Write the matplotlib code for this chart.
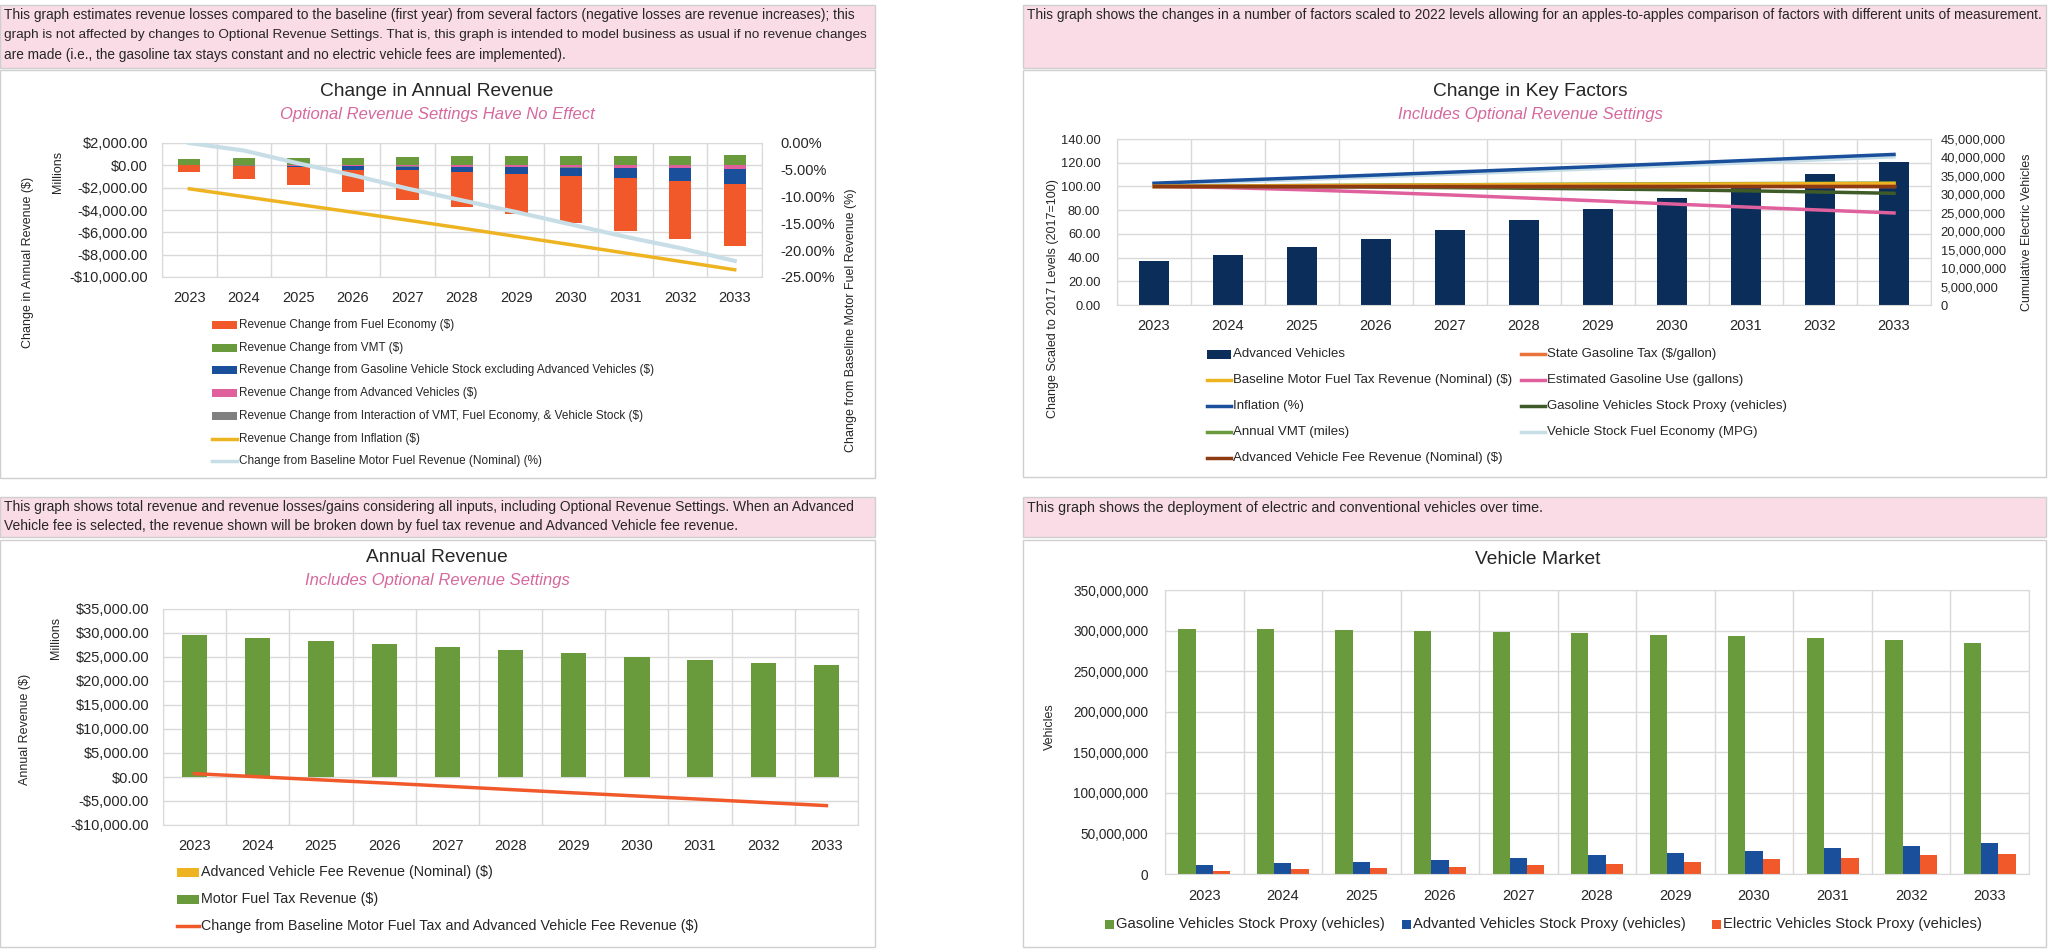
import numpy as np
import matplotlib
matplotlib.use("Agg")
import matplotlib.pyplot as plt
from matplotlib.patches import Rectangle
from matplotlib.lines import Line2D
from matplotlib.ticker import FuncFormatter, MultipleLocator

W, H = 2048, 950
FONT = ['Liberation Sans', 'DejaVu Sans']
plt.rcParams['font.family'] = FONT
plt.rcParams['text.color'] = '#262626'
plt.rcParams['xtick.color'] = '#262626'
plt.rcParams['ytick.color'] = '#262626'

years = [str(y) for y in range(2023, 2034)]

# Change in Annual Revenue (millions of $)
rev_fuel_economy = [-620, -1185, -1620, -2020, -2650, -3160, -3620, -4220, -4730, -5180, -5580]
rev_vmt = [540, 660, 690, 690, 750, 810, 870, 870, 870, 870, 930]
rev_gas_stock = [0, -30, -130, -300, -340, -460, -610, -730, -910, -1110, -1300]
rev_adv_vehicles = [0, -10, -30, -60, -80, -110, -140, -170, -200, -240, -300]
rev_interaction = [0, -10, -20, -30, -30, -30, -30, -30, -30, -40, -50]
rev_inflation = [-2100, -2800, -3500, -4200, -4910, -5630, -6370, -7110, -7860, -8600, -9350]
pct_change_baseline = [0.0, -1.4, -3.8, -6.0, -8.5, -10.7, -12.9, -15.2, -17.5, -19.6, -22.0]

# Change in Key Factors (2017 = 100), advanced vehicles on right axis
adv_vehicles_cum = [11.9e6, 13.6e6, 15.7e6, 17.9e6, 20.4e6, 23.1e6, 26.0e6, 29.1e6, 32.3e6, 35.5e6, 38.7e6]
kf_gas_tax = [100, 100, 100, 100, 100, 100, 100, 100, 100, 100, 100]
kf_baseline_rev = [100, 100.3, 100.6, 100.9, 101.2, 101.5, 101.7, 101.9, 102.1, 102.3, 102.5]
kf_gas_use = [100, 99.0, 97.2, 95.1, 92.8, 90.3, 87.8, 85.2, 82.6, 80.1, 77.6]
kf_inflation = [102.7, 105.0, 107.3, 109.6, 112.0, 114.4, 116.8, 119.3, 121.9, 124.5, 127.0]
kf_gas_stock = [100, 99.9, 99.7, 99.4, 99.0, 98.5, 97.9, 97.2, 96.3, 95.3, 94.2]
kf_vmt = [100, 100.4, 100.8, 101.1, 101.4, 101.7, 102.0, 102.2, 102.4, 102.6, 102.8]
kf_fuel_economy = [101.5, 103.6, 105.8, 108.0, 110.3, 112.6, 115.0, 117.4, 119.9, 122.4, 125.0]
kf_av_fee = [100, 100, 100, 100, 100, 100, 100, 100, 100, 100, 100]

# Annual Revenue (millions of $)
av_fee_revenue = [0, 0, 0, 0, 0, 0, 0, 0, 0, 0, 0]
fuel_tax_revenue = [29520, 28900, 28290, 27670, 27050, 26440, 25820, 25070, 24450, 23700, 23290]
change_from_baseline = [700, 50, -600, -1250, -1930, -2620, -3300, -3960, -4620, -5300, -5960]

# Vehicle Market
gas_vehicles = [301.5e6, 301.5e6, 300.5e6, 299.5e6, 298.5e6, 297e6, 295e6, 293e6, 290.5e6, 288e6, 285e6]
adv_vehicles = [11.4e6, 13.0e6, 15.0e6, 17.5e6, 20.3e6, 23.2e6, 26.0e6, 28.5e6, 32.5e6, 35.0e6, 38.6e6]
ev_vehicles = [4.1e6, 5.7e6, 6.9e6, 8.5e6, 10.6e6, 12.6e6, 15.0e6, 17.9e6, 19.9e6, 22.8e6, 25.2e6]

ORANGE = '#F1592A'
GREEN = '#699A3B'
BLUE = '#1A4F9C'
PINK = '#E0609D'
GRAY = '#808080'
YELLOW = '#EEB320'
LIGHTBLUE = '#C7DEE6'
NAVY = '#0B2D5A'
DKGREEN = '#3F5B27'
BROWN = '#8E3B12'
TAXORANGE = '#E8743B'
PINKBG = '#F9DCE6'
BORDER = '#CFCFCF'
GRID = '#D9D9D9'
SUBT = '#D6689E'

fig = plt.figure(figsize=(W / 100, H / 100), dpi=100)
x = np.arange(len(years))


def fy(y):
    return 1 - y / H


def add_axes_px(x0, y0, x1, y1):
    return fig.add_axes([x0 / W, 1 - y1 / H, (x1 - x0) / W, (y1 - y0) / H])


def box(x0, y0, x1, y1, face, edge='none', lw=1, z=1):
    fig.add_artist(Rectangle((x0 / W, fy(y1)), (x1 - x0) / W, (y1 - y0) / H, transform=fig.transFigure,
                             facecolor=face, edgecolor=edge, lw=lw, zorder=z))


def ftext(px, py, s, **kw):
    return fig.text(px / W, fy(py), s, **kw)


def legend_entry(px, py, label, color, kind, w=24, h=8, size=10.5):
    if kind == 'bar':
        box(px, py - h / 2, px + w, py + h / 2, color)
    else:
        fig.add_artist(Line2D([px / W, (px + w) / W], [fy(py), fy(py)], color=color,
                              lw=2.5, transform=fig.transFigure))
    ftext(px + w + 2, py, label, va='center', ha='left', fontsize=size)


def money(v, _):
    return f"${v:,.2f}" if v >= 0 else f"-${-v:,.2f}"


def style_axes(ax, ylim, ystep, yfmt, xpad, ypad, xsize=10.5, ysize=10.5):
    ax.set_xlim(-0.5, 10.5)
    ax.set_ylim(*ylim)
    ax.yaxis.set_major_locator(MultipleLocator(ystep))
    ax.yaxis.set_major_formatter(FuncFormatter(yfmt))
    ax.set_xticks(x)
    ax.set_xticklabels(years)
    ax.set_xticks(np.arange(-0.5, 11, 1), minor=True)
    ax.tick_params(which='both', length=0)
    ax.tick_params(axis='x', pad=xpad, labelsize=xsize)
    ax.tick_params(axis='y', pad=ypad, labelsize=ysize)
    ax.grid(True, which='minor', axis='x', color=GRID, lw=1)
    ax.grid(True, which='major', axis='y', color=GRID, lw=1)
    ax.set_axisbelow(True)
    for s in ax.spines.values():
        s.set_color(GRID)


# ---------- panel frames and note boxes ----------
for x0, y0, x1, y1, face in [(0, 5, 875, 68, PINKBG), (1023, 5, 2046, 68, PINKBG),
                             (0, 497, 875, 537, PINKBG), (1023, 497, 2046, 537, PINKBG),
                             (0, 70, 875, 478, 'white'), (1023, 70, 2046, 477, 'white'),
                             (0, 540, 875, 947, 'white'), (1023, 540, 2046, 947, 'white')]:
    box(x0, y0, x1, y1, face, BORDER, z=-5)

ftext(4, 15, "This graph estimates revenue losses compared to the baseline (first year) from several factors "
             "(negative losses are revenue increases); this", va='center', fontsize=9.9)
ftext(4, 35, "graph is not affected by changes to Optional Revenue Settings. That is, this graph is intended to "
             "model business as usual if no revenue changes", va='center', fontsize=9.7)
ftext(4, 55, "are made (i.e., the gasoline tax stays constant and no electric vehicle fees are implemented).",
      va='center', fontsize=9.8)
ftext(1027, 15, "This graph shows the changes in a number of factors scaled to 2022 levels allowing for an "
                "apples-to-apples comparison of factors with different units of measurement.",
      va='center', fontsize=9.9)
ftext(4, 507, "This graph shows total revenue and revenue losses/gains considering all inputs, including Optional "
              "Revenue Settings. When an Advanced", va='center', fontsize=10)
ftext(4, 526, "Vehicle fee is selected, the revenue shown will be broken down by fuel tax revenue and Advanced "
              "Vehicle fee revenue.", va='center', fontsize=10)
ftext(1027, 508, "This graph shows the deployment of electric and conventional vehicles over time.",
      va='center', fontsize=10.3)

# ---------- Change in Annual Revenue ----------
ftext(437, 91, "Change in Annual Revenue", ha='center', va='center', fontsize=13.8)
ftext(437, 115, "Optional Revenue Settings Have No Effect", ha='center', va='center', fontsize=12,
      color=SUBT, style='italic')

ax1 = add_axes_px(162, 143, 762, 277)
style_axes(ax1, (-10000, 2000), 2000, money, xpad=10, ypad=10)
neg_base = np.zeros(len(years))
bw = 0.41
for vals, col in [(rev_adv_vehicles, PINK), (rev_interaction, GRAY), (rev_gas_stock, BLUE),
                  (rev_fuel_economy, ORANGE)]:
    ax1.bar(x, vals, bw, bottom=neg_base, color=col, zorder=2)
    neg_base = neg_base + np.array(vals)
ax1.bar(x, rev_vmt, bw, color=GREEN, zorder=2)
ax1.plot(x, rev_inflation, color=YELLOW, lw=2.5, zorder=3)
ax1b = ax1.twinx()
ax1b.set_ylim(-25, 0)
ax1b.yaxis.set_major_locator(MultipleLocator(5))
ax1b.yaxis.set_major_formatter(FuncFormatter(lambda v, _: f"{v:.2f}%" if abs(v) > 1e-9 else "0.00%"))
ax1b.tick_params(length=0, pad=13, labelsize=10.5)
for s in ax1b.spines.values():
    s.set_visible(False)
ax1b.plot(x, pct_change_baseline, color=LIGHTBLUE, lw=3)

ftext(28, 262, "Change in Annual Revenue ($)", rotation=90, ha='center', va='center', fontsize=9)
ftext(58, 172, "Millions", rotation=90, ha='center', va='center', fontsize=9)
ftext(851, 320, "Change from Baseline Motor Fuel Revenue (%)", rotation=90, ha='center', va='center',
      fontsize=9)

tl_legend = [("Revenue Change from Fuel Economy ($)", ORANGE, 'bar'),
             ("Revenue Change from VMT ($)", GREEN, 'bar'),
             ("Revenue Change from Gasoline Vehicle Stock excluding Advanced Vehicles ($)", BLUE, 'bar'),
             ("Revenue Change from Advanced Vehicles ($)", PINK, 'bar'),
             ("Revenue Change from Interaction of VMT, Fuel Economy, & Vehicle Stock ($)", GRAY, 'bar'),
             ("Revenue Change from Inflation ($)", YELLOW, 'line'),
             ("Change from Baseline Motor Fuel Revenue (Nominal) (%)", LIGHTBLUE, 'line')]
for i, (lab, col, kind) in enumerate(tl_legend):
    legend_entry(212, 325 + i * 22.7, lab, col, kind, w=25, size=8.5)

# ---------- Change in Key Factors ----------
ftext(1530, 91, "Change in Key Factors", ha='center', va='center', fontsize=13.8)
ftext(1530, 115, "Includes Optional Revenue Settings", ha='center', va='center', fontsize=12,
      color=SUBT, style='italic')

ax2 = add_axes_px(1117, 139, 1931, 305)
style_axes(ax2, (0, 140), 20, lambda v, _: f"{v:.2f}", xpad=10, ypad=12, xsize=10.5, ysize=9.3)
ax2.grid(False, which='major', axis='y')
ax2.grid(False, which='minor', axis='x')
ax2b = ax2.twinx()
ax2.set_zorder(ax2b.get_zorder() + 1)
ax2.patch.set_visible(False)
ax2b.set_ylim(0, 45e6)
ax2b.set_xlim(-0.5, 10.5)
ax2b.yaxis.set_major_locator(MultipleLocator(5e6))
ax2b.yaxis.set_major_formatter(FuncFormatter(lambda v, _: f"{v:,.0f}"))
ax2b.tick_params(length=0, pad=7, labelsize=9.3)
for s in ax2b.spines.values():
    s.set_visible(False)
ax2b.hlines(ax2.get_yticks()[1:-1], -0.5, 10.5, transform=ax2.transData, color=GRID, lw=1, zorder=0)
ax2b.vlines(np.arange(-0.5, 11, 1), 0, 1, transform=ax2b.get_xaxis_transform(), color=GRID, lw=1, zorder=0)
ax2b.bar(x, adv_vehicles_cum, 0.4, color=NAVY, zorder=2)
for vals, col in [(kf_fuel_economy, LIGHTBLUE), (kf_inflation, BLUE), (kf_gas_use, PINK),
                  (kf_gas_stock, DKGREEN), (kf_vmt, GREEN), (kf_baseline_rev, YELLOW),
                  (kf_gas_tax, TAXORANGE), (kf_av_fee, BROWN)]:
    ax2.plot(x, vals, color=col, lw=2.5)

ftext(1053, 299, "Change Scaled to 2017 Levels (2017=100)", rotation=90, ha='center', va='center', fontsize=9)
ftext(2027, 232, "Cumulative Electric Vehicles", rotation=90, ha='center', va='center', fontsize=9)

tr_col1 = [("Advanced Vehicles", NAVY, 'bar'),
           ("Baseline Motor Fuel Tax Revenue (Nominal) ($)", YELLOW, 'line'),
           ("Inflation (%)", BLUE, 'line'),
           ("Annual VMT (miles)", GREEN, 'line'),
           ("Advanced Vehicle Fee Revenue (Nominal) ($)", BROWN, 'line')]
tr_col2 = [("State Gasoline Tax ($/gallon)", TAXORANGE, 'line'),
           ("Estimated Gasoline Use (gallons)", PINK, 'line'),
           ("Gasoline Vehicles Stock Proxy (vehicles)", DKGREEN, 'line'),
           ("Vehicle Stock Fuel Economy (MPG)", LIGHTBLUE, 'line')]
for i, (lab, col, kind) in enumerate(tr_col1):
    legend_entry(1207, 354 + i * 26, lab, col, kind, w=24, h=9, size=9.5)
for i, (lab, col, kind) in enumerate(tr_col2):
    legend_entry(1521, 354 + i * 26, lab, col, kind, w=24, h=9, size=9.5)

# ---------- Annual Revenue ----------
ftext(437, 558, "Annual Revenue", ha='center', va='center', fontsize=13.8)
ftext(437, 581, "Includes Optional Revenue Settings", ha='center', va='center', fontsize=12,
      color=SUBT, style='italic')

ax3 = add_axes_px(163, 609, 858, 825)
style_axes(ax3, (-10000, 35000), 5000, money, xpad=10, ypad=10)
ax3.bar(x, av_fee_revenue, 0.4, color=YELLOW, zorder=2)
ax3.bar(x, fuel_tax_revenue, 0.4, bottom=av_fee_revenue, color=GREEN, zorder=2)
ax3.plot(x, change_from_baseline, color=ORANGE, lw=2.5, zorder=3)

ftext(25, 729, "Annual Revenue ($)", rotation=90, ha='center', va='center', fontsize=9)
ftext(56, 638, "Millions", rotation=90, ha='center', va='center', fontsize=9)

bl_legend = [("Advanced Vehicle Fee Revenue (Nominal) ($)", YELLOW, 'bar'),
             ("Motor Fuel Tax Revenue ($)", GREEN, 'bar'),
             ("Change from Baseline Motor Fuel Tax and Advanced Vehicle Fee Revenue ($)", ORANGE, 'line')]
for i, (lab, col, kind) in enumerate(bl_legend):
    legend_entry(177, 872 + i * 27, lab, col, kind, w=22, h=9, size=10.3)

# ---------- Vehicle Market ----------
ftext(1538, 559, "Vehicle Market", ha='center', va='center', fontsize=13.8)

ax4 = add_axes_px(1165, 590, 2029, 874)
style_axes(ax4, (0, 350e6), 50e6, lambda v, _: f"{v:,.0f}", xpad=11, ypad=12, xsize=10.5, ysize=9.8)
bw4 = 0.22
ax4.bar(x - bw4, gas_vehicles, bw4, color=GREEN, zorder=2)
ax4.bar(x, adv_vehicles, bw4, color=BLUE, zorder=2)
ax4.bar(x + bw4, ev_vehicles, bw4, color=ORANGE, zorder=2)

ftext(1050, 727, "Vehicles", rotation=90, ha='center', va='center', fontsize=9)

br_legend = [(1105, "Gasoline Vehicles Stock Proxy (vehicles)", GREEN),
             (1402, "Advanted Vehicles Stock Proxy (vehicles)", BLUE),
             (1712, "Electric Vehicles Stock Proxy (vehicles)", ORANGE)]
for px, lab, col in br_legend:
    legend_entry(px, 924, lab, col, 'bar', w=9, h=9, size=10.6)

fig.savefig("out.png", dpi=100)
